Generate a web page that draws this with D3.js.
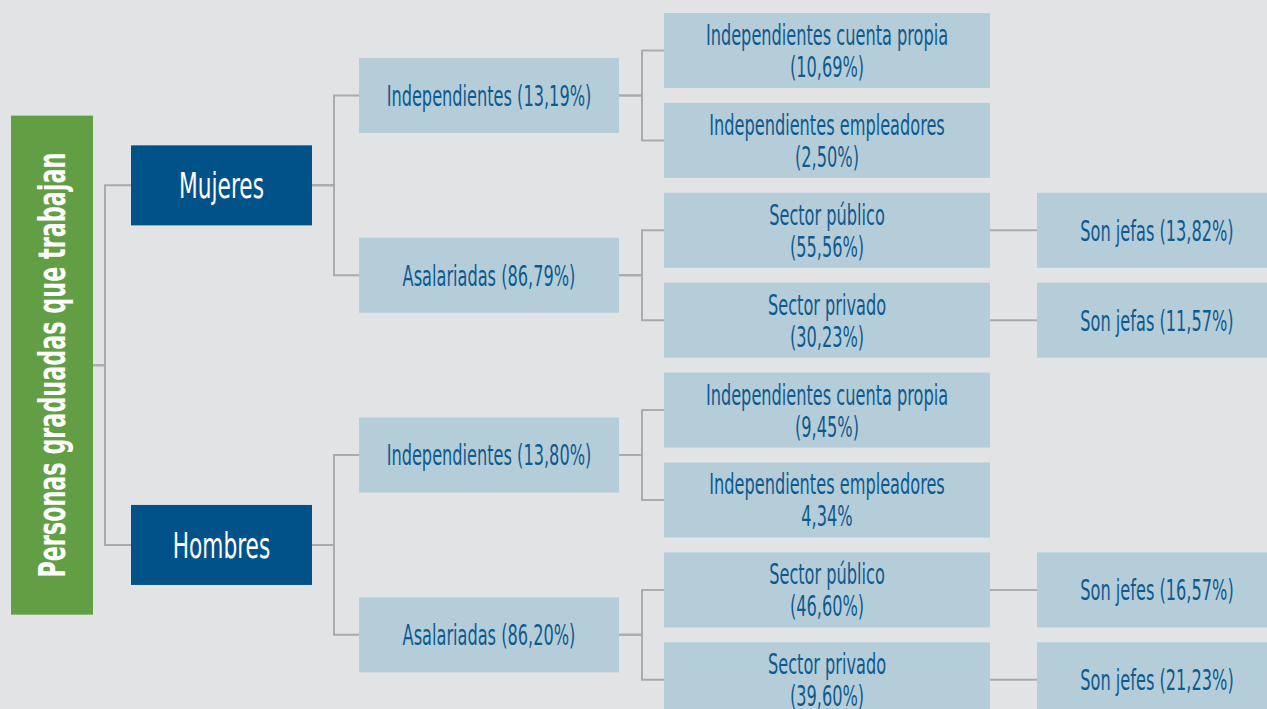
<!DOCTYPE html>
<html>
<head>
<meta charset="utf-8">
<script src="https://cdn.jsdelivr.net/npm/d3@7"></script>
<style>
  html, body { margin: 0; padding: 0; background: #e1e3e5; overflow: hidden; }
  svg { display: block; }
  .link { fill: none; stroke: #a9abad; stroke-width: 2; }
  text { font-family: "DejaVu Sans Condensed", "DejaVu Sans", sans-serif; }
</style>
</head>
<body>
<div id="chart"></div>
<script>
// chart data
const rootLabel = 'Personas graduadas que trabajan';
const genders = ['Mujeres', 'Hombres'];
const typeLabels = [
    ['Independientes (13,19%)', 'Asalariadas (86,79%)'],
    ['Independientes (13,80%)', 'Asalariadas (86,20%)']
];
const subLabels = [
    [['Independientes cuenta propia', '(10,69%)'], ['Independientes empleadores', '(2,50%)'],
     ['Sector público', '(55,56%)'], ['Sector privado', '(30,23%)']],
    [['Independientes cuenta propia', '(9,45%)'], ['Independientes empleadores', '4,34%'],
     ['Sector público', '(46,60%)'], ['Sector privado', '(39,60%)']]
];
const bossLabels = [
    ['Son jefas (13,82%)', 'Son jefas (11,57%)'],
    ['Son jefes (16,57%)', 'Son jefes (21,23%)']
];

const width = 1267;
const height = 709;

// column geometry, by depth
const colLeft = [11, 131, 359, 664, 1037];
const colWidth = [82, 181, 260, 326, 240];
const boxHeight = [499, 80, 75, 75, 75];
const elbowX = [105, 334, 642, 1013];
const fills = ['#629e43', '#02528a', '#b5cdd9', '#b5cdd9', '#b5cdd9'];
const fontSize = [37, 36, 29, 29, 29];
const squeeze = [0.67, 0.67, 0.62, 0.62, 0.62];
const rowStep = 89.9;
const firstRow = 50.5;

const buildData = () => ({
    name: [rootLabel],
    children: genders.map((g, gi) => ({
        name: [g],
        children: typeLabels[gi].map((t, ti) => ({
            name: [t],
            children: subLabels[gi].slice(ti * 2, ti * 2 + 2).map((s, si) => ({
                name: s,
                children: ti === 1 ? [{ name: [bossLabels[gi][si]] }] : undefined
            }))
        }))
    }))
});

const root = d3.hierarchy(buildData());
d3.tree().nodeSize([rowStep, 1]).separation(() => 1)(root);

const minRow = d3.min(root.descendants().filter(d => d.depth === 3), d => d.x);
const y = d => d.x - minRow + firstRow;

const svg = d3.select('#chart').append('svg')
    .attr('width', width)
    .attr('height', height);

svg.append('rect').attr('width', width).attr('height', height).attr('fill', '#e1e3e5');

svg.append('g')
    .selectAll('path')
    .data(root.links())
    .join('path')
    .attr('class', 'link')
    .attr('d', l => {
        const d0 = l.source.depth;
        const x0 = colLeft[d0] + colWidth[d0];
        const x1 = colLeft[d0 + 1];
        return `M${x0},${y(l.source)}H${elbowX[d0]}V${y(l.target)}H${x1}`;
    });

const node = svg.append('g')
    .selectAll('g')
    .data(root.descendants())
    .join('g');

node.append('rect')
    .attr('x', d => colLeft[d.depth])
    .attr('y', d => y(d) - boxHeight[d.depth] / 2)
    .attr('width', d => colWidth[d.depth])
    .attr('height', d => boxHeight[d.depth])
    .attr('fill', d => fills[d.depth]);

const label = node.append('text')
    .attr('transform', d => {
        const cx = colLeft[d.depth] + colWidth[d.depth] / 2;
        const rot = d.depth === 0 ? ' rotate(-90)' : '';
        return `translate(${cx},${y(d)})${rot} scale(${squeeze[d.depth]},1)`;
    })
    .attr('text-anchor', 'middle')
    .attr('fill', d => (d.depth < 2 ? '#ffffff' : '#0d5a8e'))
    .attr('font-weight', d => (d.depth === 0 ? 'bold' : 'normal'))
    .style('font-size', d => `${fontSize[d.depth]}px`);

label.selectAll('tspan')
    .data(d => d.data.name.map((t, i, arr) => ({ t, i, n: arr.length })))
    .join('tspan')
    .attr('x', 0)
    .attr('y', p => (p.i - (p.n - 1) / 2) * 32)
    .attr('dy', '0.36em')
    .text(p => p.t);
</script>
</body>
</html>
